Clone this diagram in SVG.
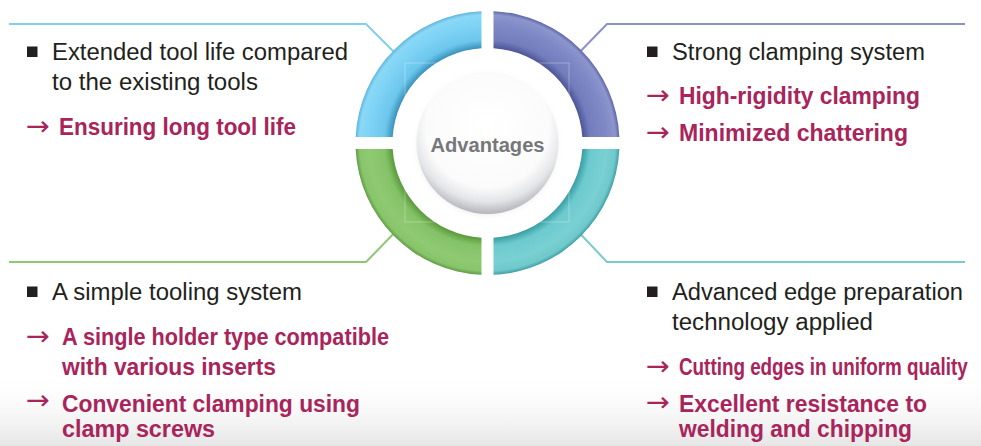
<svg xmlns="http://www.w3.org/2000/svg" width="981" height="446" viewBox="0 0 981 446">
<style>
.t{font-family:"Liberation Sans",Arial,sans-serif;font-size:23.5px;fill:#231f20;}
.r{font-family:"Liberation Sans",Arial,sans-serif;font-size:23.5px;font-weight:bold;fill:#a8245a;}
.a{font-family:"DejaVu Sans",sans-serif;font-size:27px;fill:#a8245a;}
.b{fill:#231f20;}
.ln{fill:none;stroke-width:2;}
</style>
<defs>
<linearGradient id="bg" x1="0" y1="0" x2="0" y2="1">
<stop offset="0" stop-color="#ffffff" stop-opacity="0"/>
<stop offset="1" stop-color="#e6e6e6"/>
</linearGradient>
<radialGradient id="gBlue" gradientUnits="userSpaceOnUse" cx="487.5" cy="143" r="132">
<stop offset="0.72" stop-color="#3b92bb"/>
<stop offset="0.78" stop-color="#6cc6ec"/>
<stop offset="0.9" stop-color="#7fd3f5"/>
<stop offset="0.97" stop-color="#8ad8f6"/>
<stop offset="1" stop-color="#5fb6dc"/>
</radialGradient>
<radialGradient id="gPurple" gradientUnits="userSpaceOnUse" cx="487.5" cy="143" r="132">
<stop offset="0.72" stop-color="#4d5596"/>
<stop offset="0.78" stop-color="#737dbd"/>
<stop offset="0.9" stop-color="#7f89c6"/>
<stop offset="0.97" stop-color="#8c95cc"/>
<stop offset="1" stop-color="#5e67a8"/>
</radialGradient>
<radialGradient id="gGreen" gradientUnits="userSpaceOnUse" cx="487.5" cy="143" r="132">
<stop offset="0.72" stop-color="#5a9a3c"/>
<stop offset="0.78" stop-color="#84c267"/>
<stop offset="0.9" stop-color="#8fca72"/>
<stop offset="0.97" stop-color="#88c46a"/>
<stop offset="1" stop-color="#5f9c44"/>
</radialGradient>
<radialGradient id="gTeal" gradientUnits="userSpaceOnUse" cx="487.5" cy="143" r="132">
<stop offset="0.72" stop-color="#3a9ea3"/>
<stop offset="0.78" stop-color="#6ccace"/>
<stop offset="0.9" stop-color="#7ad0d3"/>
<stop offset="0.97" stop-color="#6fc8cb"/>
<stop offset="1" stop-color="#3f9fa4"/>
</radialGradient>
<radialGradient id="gCenter" cx="0.5" cy="0.38" r="0.62">
<stop offset="0" stop-color="#ffffff"/>
<stop offset="0.7" stop-color="#fbfbfb"/>
<stop offset="0.86" stop-color="#e4e5e8"/>
<stop offset="1" stop-color="#b4b5ba"/>
</radialGradient>
<radialGradient id="gShadow" cx="0.5" cy="0.5" r="0.5">
<stop offset="0.85" stop-color="#c8c9cc" stop-opacity="0.6"/>
<stop offset="1" stop-color="#ffffff" stop-opacity="0"/>
</radialGradient>
</defs>
<rect x="0" y="0" width="981" height="446" fill="#ffffff"/>
<rect x="0" y="370" width="981" height="76" fill="url(#bg)"/>

<g id="connectors">
<polyline class="ln" stroke="#7ecff0" points="9,24 366,24 405,63"/>
<polyline class="ln" stroke="#8a90c8" points="965,24 607,24 569,63"/>
<polyline class="ln" stroke="#8dc873" points="9,262 366,262 405,222"/>
<polyline class="ln" stroke="#76cccc" points="965,262 607,262 569,222"/>
</g>

<g id="ring">
<path id="seg-tl" d="M 481.5 11.14 A 132 132 0 0 0 355.64 137 L 392.69 137 A 95 95 0 0 1 481.5 48.19 Z" fill="url(#gBlue)"/>
<path id="seg-tr" d="M 493.5 11.14 A 132 132 0 0 1 619.36 137 L 582.31 137 A 95 95 0 0 0 493.5 48.19 Z" fill="url(#gPurple)"/>
<path id="seg-bl" d="M 355.64 149 A 132 132 0 0 0 481.5 274.86 L 481.5 237.81 A 95 95 0 0 1 392.69 149 Z" fill="url(#gGreen)"/>
<path id="seg-br" d="M 619.36 149 A 132 132 0 0 1 493.5 274.86 L 493.5 237.81 A 95 95 0 0 0 582.31 149 Z" fill="url(#gTeal)"/>
<rect x="405" y="63" width="164" height="159" fill="none" stroke="#ffffff" stroke-opacity="0.3" stroke-width="1"/>
</g>

<g id="center">
<circle cx="487.5" cy="145" r="76" fill="url(#gShadow)"/>
<circle cx="487.5" cy="143" r="71" fill="url(#gCenter)"/>
<text x="487.5" y="152" text-anchor="middle" font-family="Liberation Sans,Arial,sans-serif" font-size="20" font-weight="bold" fill="#76777a" textLength="114" lengthAdjust="spacingAndGlyphs">Advantages</text>
</g>

<g id="node-tl">
<rect class="b" x="27" y="46.5" width="10.5" height="10.5"/>
<text class="t" x="52" y="60" textLength="296" lengthAdjust="spacingAndGlyphs">Extended tool life compared</text>
<text class="t" x="52" y="90" textLength="206" lengthAdjust="spacingAndGlyphs">to the existing tools</text>
<text class="a" x="26" y="135" textLength="24" lengthAdjust="spacingAndGlyphs">→</text>
<text class="r" x="59" y="135" textLength="237" lengthAdjust="spacingAndGlyphs">Ensuring long tool life</text>
</g>

<g id="node-tr">
<rect class="b" x="647" y="46.5" width="10.5" height="10.5"/>
<text class="t" x="672" y="60" textLength="253" lengthAdjust="spacingAndGlyphs">Strong clamping system</text>
<text class="a" x="646" y="104" textLength="24" lengthAdjust="spacingAndGlyphs">→</text>
<text class="r" x="679" y="104" textLength="241" lengthAdjust="spacingAndGlyphs">High-rigidity clamping</text>
<text class="a" x="646" y="140.5" textLength="24" lengthAdjust="spacingAndGlyphs">→</text>
<text class="r" x="679" y="140.5" textLength="229" lengthAdjust="spacingAndGlyphs">Minimized chattering</text>
</g>

<g id="node-bl">
<rect class="b" x="27" y="286.5" width="10.5" height="10.5"/>
<text class="t" x="52" y="300" textLength="250" lengthAdjust="spacingAndGlyphs">A simple tooling system</text>
<text class="a" x="26" y="345" textLength="24" lengthAdjust="spacingAndGlyphs">→</text>
<text class="r" x="62" y="344.5" textLength="327" lengthAdjust="spacingAndGlyphs">A single holder type compatible</text>
<text class="r" x="62" y="374.5" textLength="214" lengthAdjust="spacingAndGlyphs">with various inserts</text>
<text class="a" x="26" y="409" textLength="24" lengthAdjust="spacingAndGlyphs">→</text>
<text class="r" x="62" y="411.5" textLength="298" lengthAdjust="spacingAndGlyphs">Convenient clamping using</text>
<text class="r" x="62" y="436.5" textLength="153" lengthAdjust="spacingAndGlyphs">clamp screws</text>
</g>

<g id="node-br">
<rect class="b" x="647" y="286.5" width="10.5" height="10.5"/>
<text class="t" x="672" y="300" textLength="291" lengthAdjust="spacingAndGlyphs">Advanced edge preparation</text>
<text class="t" x="672" y="330" textLength="201" lengthAdjust="spacingAndGlyphs">technology applied</text>
<text class="a" x="646" y="375" textLength="24" lengthAdjust="spacingAndGlyphs">→</text>
<text class="r" transform="translate(679,374.5) scale(0.8,1)" x="0" y="0" textLength="361" lengthAdjust="spacingAndGlyphs">Cutting edges in uniform quality</text>
<text class="a" x="646" y="411" textLength="24" lengthAdjust="spacingAndGlyphs">→</text>
<text class="r" x="679" y="411.5" textLength="248" lengthAdjust="spacingAndGlyphs">Excellent resistance to</text>
<text class="r" x="679" y="436.5" textLength="233" lengthAdjust="spacingAndGlyphs">welding and chipping</text>
</g>
</svg>
